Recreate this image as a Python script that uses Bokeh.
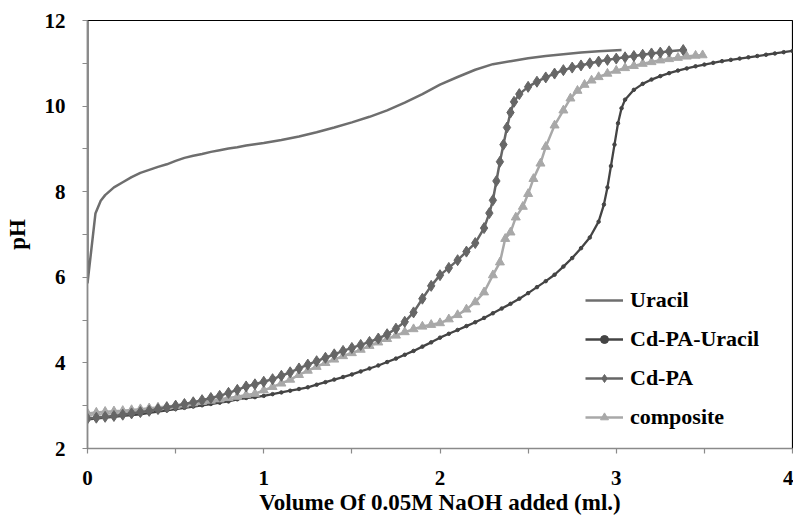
from bokeh.plotting import figure
from bokeh.models import FixedTicker, Range1d
from bokeh.embed import file_html
from bokeh.resources import INLINE

# ---------------- data ----------------
uracil_x = [0.0, 0.0, 0.045, 0.075, 0.10, 0.15, 0.20, 0.25, 0.30, 0.35, 0.40, 0.45, 0.50,
            0.55, 0.60, 0.65, 0.70, 0.75, 0.80, 0.85, 0.90, 0.95, 1.00, 1.10, 1.20, 1.30,
            1.40, 1.50, 1.60, 1.70, 1.80, 1.90, 2.00, 2.10, 2.20, 2.30, 2.40, 2.50, 2.60,
            2.70, 2.80, 2.90, 3.03]
uracil_y = [12.0, 5.86, 7.49, 7.79, 7.92, 8.10, 8.22, 8.34, 8.44, 8.51, 8.58, 8.64, 8.72,
            8.79, 8.84, 8.88, 8.93, 8.97, 9.01, 9.04, 9.08, 9.11, 9.14, 9.21, 9.29, 9.39,
            9.50, 9.62, 9.75, 9.90, 10.08, 10.28, 10.50, 10.68, 10.85, 10.98, 11.05, 11.12,
            11.17, 11.21, 11.25, 11.28, 11.31]

cdpau_x = [0.00, 0.05, 0.10, 0.15, 0.20, 0.25, 0.30, 0.35, 0.40, 0.45, 0.50, 0.55, 0.60,
           0.65, 0.70, 0.75, 0.80, 0.85, 0.90, 0.95, 1.00, 1.05, 1.10, 1.15, 1.20, 1.25,
           1.30, 1.35, 1.40, 1.45, 1.50, 1.55, 1.60, 1.65, 1.70, 1.75, 1.80, 1.85, 1.90,
           1.95, 2.00, 2.05, 2.10, 2.15, 2.20, 2.25, 2.30, 2.35, 2.40, 2.45, 2.50, 2.55,
           2.60, 2.65, 2.70, 2.75, 2.80, 2.85, 2.90, 2.93, 2.95, 2.97, 2.99, 3.01, 3.03,
           3.05, 3.10, 3.15, 3.20, 3.25, 3.30, 3.35, 3.40, 3.45, 3.50, 3.55, 3.60, 3.65,
           3.70, 3.75, 3.80, 3.85, 3.90, 3.95, 4.00]
cdpau_y = [2.68, 2.70, 2.72, 2.74, 2.76, 2.78, 2.80, 2.83, 2.86, 2.89, 2.92, 2.95, 2.98,
           3.01, 3.04, 3.07, 3.10, 3.15, 3.18, 3.20, 3.23, 3.27, 3.31, 3.35, 3.39, 3.43,
           3.49, 3.55, 3.61, 3.67, 3.73, 3.80, 3.87, 3.94, 4.02, 4.10, 4.19, 4.28, 4.38,
           4.48, 4.59, 4.68, 4.77, 4.86, 4.95, 5.05, 5.16, 5.27, 5.38, 5.50, 5.63, 5.77,
           5.91, 6.06, 6.25, 6.45, 6.68, 6.93, 7.30, 7.70, 8.10, 8.60, 9.10, 9.60, 9.95,
           10.15, 10.38, 10.52, 10.62, 10.70, 10.77, 10.83, 10.88, 10.93, 10.97, 11.01,
           11.05, 11.08, 11.11, 11.14, 11.17, 11.20, 11.23, 11.26, 11.29]

cdpa_x = [0.00, 0.05, 0.10, 0.15, 0.20, 0.25, 0.30, 0.35, 0.40, 0.45, 0.50, 0.55, 0.60,
          0.65, 0.70, 0.75, 0.80, 0.85, 0.90, 0.95, 1.00, 1.05, 1.10, 1.15, 1.20, 1.25,
          1.30, 1.35, 1.40, 1.45, 1.50, 1.55, 1.60, 1.65, 1.70, 1.75, 1.80, 1.85, 1.90,
          1.95, 2.00, 2.05, 2.10, 2.15, 2.20, 2.25, 2.28, 2.30, 2.32, 2.34, 2.36, 2.38,
          2.40, 2.42, 2.45, 2.50, 2.55, 2.60, 2.65, 2.70, 2.75, 2.80, 2.85, 2.90, 2.95,
          3.00, 3.05, 3.10, 3.15, 3.20, 3.25, 3.30, 3.38]
cdpa_y = [2.70, 2.72, 2.74, 2.76, 2.79, 2.82, 2.85, 2.88, 2.92, 2.96, 3.00, 3.04, 3.08,
          3.13, 3.18, 3.23, 3.30, 3.37, 3.45, 3.50, 3.56, 3.62, 3.70, 3.78, 3.87, 3.96,
          4.04, 4.12, 4.20, 4.28, 4.35, 4.42, 4.49, 4.57, 4.67, 4.80, 4.96, 5.18, 5.50,
          5.80, 6.05, 6.22, 6.40, 6.60, 6.80, 7.15, 7.50, 7.80, 8.25, 8.70, 9.10, 9.50,
          9.85, 10.10, 10.28, 10.45, 10.57, 10.67, 10.76, 10.84, 10.90, 10.95, 11.00,
          11.04, 11.08, 11.11, 11.14, 11.17, 11.20, 11.23, 11.25, 11.28, 11.31]

comp_x = [0.00, 0.05, 0.10, 0.15, 0.20, 0.25, 0.30, 0.35, 0.40, 0.45, 0.50, 0.55, 0.60,
          0.65, 0.70, 0.75, 0.80, 0.85, 0.90, 0.95, 1.00, 1.05, 1.10, 1.15, 1.20, 1.25,
          1.30, 1.35, 1.40, 1.45, 1.50, 1.55, 1.60, 1.65, 1.70, 1.75, 1.80, 1.85, 1.90,
          1.95, 2.00, 2.05, 2.10, 2.15, 2.20, 2.25, 2.30, 2.34, 2.37, 2.40, 2.43, 2.47,
          2.50, 2.53, 2.57, 2.60, 2.65, 2.70, 2.74, 2.78, 2.82, 2.86, 2.90, 2.95, 3.00,
          3.05, 3.10, 3.15, 3.20, 3.25, 3.30, 3.35, 3.40, 3.45, 3.49]
comp_y = [2.82, 2.84, 2.86, 2.87, 2.88, 2.90, 2.92, 2.94, 2.96, 2.98, 3.00, 3.03, 3.06,
          3.09, 3.12, 3.15, 3.18, 3.21, 3.25, 3.28, 3.36, 3.44, 3.52, 3.61, 3.72, 3.82,
          3.91, 4.00, 4.08, 4.16, 4.23, 4.31, 4.40, 4.48, 4.56, 4.64, 4.72, 4.79, 4.85,
          4.89, 4.93, 5.02, 5.12, 5.25, 5.42, 5.65, 6.05, 6.35, 6.90, 7.05, 7.40, 7.65,
          7.95, 8.30, 8.66, 9.05, 9.55, 9.90, 10.18, 10.36, 10.50, 10.60, 10.68, 10.76,
          10.83, 10.89, 10.94, 10.99, 11.03, 11.07, 11.10, 11.13, 11.16, 11.18, 11.19]

y_major = [2, 4, 6, 8, 10, 12]
y_minor = [3, 5, 7, 9, 11]
x_major = [0, 1, 2, 3, 4]
x_minor = [0.5, 1.5, 2.5, 3.5]

FONT = "'Liberation Serif', serif"

p = figure(width=793, height=518, output_backend="svg", toolbar_location=None,
           x_range=Range1d(0, 4), y_range=Range1d(2, 12),
           min_border_left=87, min_border_right=1, min_border_top=20, min_border_bottom=70,
           background_fill_color="white", border_fill_color="white")

p.xgrid.visible = False
p.ygrid.visible = False
p.outline_line_color = "black"
p.outline_line_width = 1.2

# series
p.line(cdpau_x, cdpau_y, line_color="#444444", line_width=2.3, legend_label="Cd-PA-Uracil")
p.scatter(cdpau_x, cdpau_y, marker="circle", size=3.5, fill_color="#444444",
          line_color="#444444", legend_label="Cd-PA-Uracil")

p.line(comp_x, comp_y, line_color="#a8a8a8", line_width=2.5, legend_label="composite")
p.scatter(comp_x, comp_y, marker="triangle", size=9, fill_color="#a8a8a8",
          line_color="#a8a8a8", legend_label="composite")

p.line(cdpa_x, cdpa_y, line_color="#666666", line_width=2.5, legend_label="Cd-PA")
p.scatter(cdpa_x, cdpa_y, marker="diamond", size=11, fill_color="#666666",
          line_color="#666666", legend_label="Cd-PA")

p.line(uracil_x, uracil_y, line_color="#6e6e6e", line_width=2.5, legend_label="Uracil")

# axes
for ax in (p.xaxis[0], p.yaxis[0]):
    ax.axis_line_color = "#8a8a8a"
    ax.axis_line_width = 1.5
    ax.major_tick_line_color = "#8a8a8a"
    ax.minor_tick_line_color = "#8a8a8a"
    ax.major_tick_line_width = 1.2
    ax.minor_tick_line_width = 1.2
    ax.major_tick_in = 0
    ax.major_tick_out = 5
    ax.minor_tick_in = 0
    ax.minor_tick_out = 5
    ax.major_label_text_font = FONT
    ax.major_label_text_font_style = "bold"
    ax.major_label_text_font_size = "21px"
    ax.major_label_text_color = "black"
    ax.axis_label_text_font = FONT
    ax.axis_label_text_font_style = "bold"
    ax.axis_label_text_font_size = "23px"
    ax.axis_label_text_color = "black"

p.xaxis.ticker = FixedTicker(ticks=x_major, minor_ticks=x_minor)
p.yaxis.ticker = FixedTicker(ticks=y_major, minor_ticks=y_minor)
p.xaxis.major_label_standoff = 17
p.yaxis.major_label_standoff = 17
p.xaxis.axis_label = "Volume Of 0.05M NaOH added (ml.)"
p.yaxis.axis_label = "pH"
p.xaxis.axis_label_standoff = 2
p.yaxis.axis_label_standoff = 12

# legend
lg = p.legend[0]
items = {it.label.value: it for it in lg.items}
lg.items = [items["Uracil"], items["Cd-PA-Uracil"], items["Cd-PA"], items["composite"]]
lg.location = (498, 18)
lg.border_line_color = None
lg.background_fill_alpha = 0
lg.padding = 0
lg.margin = 0
lg.spacing = 13
lg.glyph_width = 38
lg.glyph_height = 20
lg.label_height = 20
lg.label_standoff = 7
lg.label_text_font = FONT
lg.label_text_font_style = "bold"
lg.label_text_font_size = "22px"
lg.label_text_color = "black"

open("out.html", "w").write(file_html(p, INLINE))
